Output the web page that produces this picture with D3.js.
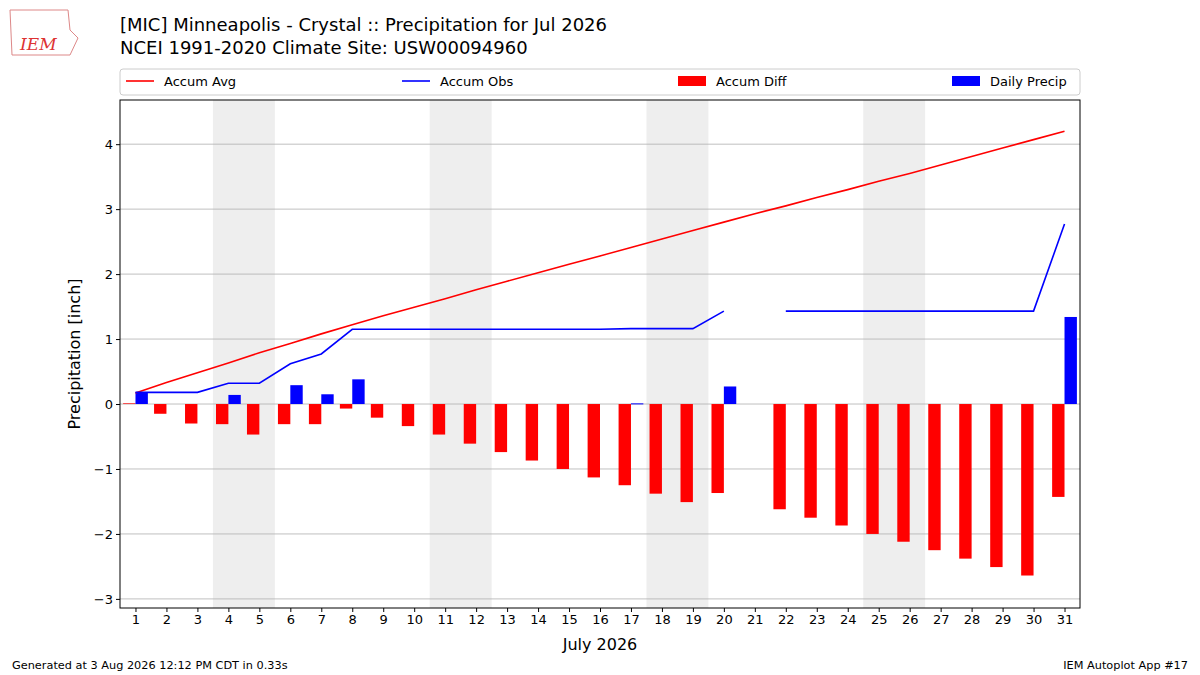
<!DOCTYPE html>
<html><head><meta charset="utf-8">
<script src="https://cdn.jsdelivr.net/npm/d3@7"></script>
<style>body{margin:0;background:#fff;font-family:"DejaVu Sans",sans-serif}</style>
</head><body><div id="chart"></div>
<script>
// Data
const days = d3.range(1, 32);
const accumAvg = [0.17,0.33,0.48,0.63,0.79,0.93,1.08,1.22,1.36,1.49,1.62,1.76,1.89,2.02,2.15,2.28,2.41,2.54,2.67,2.80,2.93,3.05,3.18,3.30,3.43,3.55,3.68,3.81,3.94,4.07,4.20];
const accumObs = [0.18,0.18,0.18,0.32,0.32,0.62,0.77,1.15,1.15,1.15,1.15,1.15,1.15,1.15,1.15,1.15,1.16,1.16,1.16,1.43,null,1.43,1.43,1.43,1.43,1.43,1.43,1.43,1.43,1.43,2.77];
const accumDiff = [0.01,-0.15,-0.30,-0.31,-0.47,-0.31,-0.31,-0.07,-0.21,-0.34,-0.47,-0.61,-0.74,-0.87,-1.00,-1.13,-1.25,-1.38,-1.51,-1.37,null,-1.62,-1.75,-1.87,-2.00,-2.12,-2.25,-2.38,-2.51,-2.64,-1.43];
const dailyPrecip = [0.18,0,0,0.14,0,0.29,0.15,0.38,0,0,0,0,0,0,0,0,0.01,0,0,0.27,null,0,0,0,0,0,0,0,0,0,1.34];
const weekends = [4, 11, 18, 25];
const yTicks = [-3,-2,-1,0,1,2,3,4];

const width = 1200, height = 675;
const margin = {top: 100, bottom: 67, left: 120, right: 120};

let svg = d3.select('#chart').append('svg')
  .attr('width', width).attr('height', height);

let x = d3.scaleLinear().domain([0.5, 31.5]).range([margin.left, width - margin.right]);
let y = d3.scaleLinear().domain([-3.14, 4.68]).range([height - margin.bottom, margin.top]);

// weekend shading
svg.selectAll('.wk').data(weekends).enter().append('rect')
  .attr('x', d => x(d - 0.5)).attr('width', d => x(d + 1.5) - x(d - 0.5))
  .attr('y', margin.top).attr('height', y.range()[0] - margin.top)
  .attr('fill', '#eeeeee');

// grid
svg.selectAll('.grid').data(yTicks).enter().append('line')
  .attr('x1', margin.left).attr('x2', width - margin.right)
  .attr('y1', d => y(d)).attr('y2', d => y(d))
  .attr('stroke', '#b0b0b0').attr('stroke-width', 0.8);

// diff bars (left of tick)
svg.selectAll('.diff').data(days.filter((d, i) => accumDiff[i] !== null)).enter().append('rect')
  .attr('x', d => x(d - 0.4)).attr('width', x(0.4) - x(0))
  .attr('y', d => y(Math.max(0, accumDiff[d - 1])))
  .attr('height', d => Math.abs(y(accumDiff[d - 1]) - y(0)))
  .attr('fill', 'red');

// daily precip bars (right of tick)
svg.selectAll('.daily').data(days.filter((d, i) => dailyPrecip[i])).enter().append('rect')
  .attr('x', d => x(d)).attr('width', x(0.4) - x(0))
  .attr('y', d => y(dailyPrecip[d - 1]))
  .attr('height', d => Math.max(1, y(0) - y(dailyPrecip[d - 1])))
  .attr('fill', 'blue');

let line = vals => d3.line().defined(d => vals[d - 1] !== null)
  .x(d => x(d)).y(d => y(vals[d - 1]));
svg.append('path').datum(days).attr('d', line(accumAvg))
  .attr('fill', 'none').attr('stroke', 'red').attr('stroke-width', 1.6);
svg.append('path').datum(days).attr('d', line(accumObs))
  .attr('fill', 'none').attr('stroke', 'blue').attr('stroke-width', 1.6);

// frame
svg.append('rect').attr('x', margin.left).attr('y', margin.top)
  .attr('width', width - margin.left - margin.right).attr('height', y.range()[0] - margin.top)
  .attr('fill', 'none').attr('stroke', 'black');

// axes
let xAxis = svg.append('g').attr('transform', `translate(0,${height - margin.bottom})`)
  .call(d3.axisBottom(x).tickValues(days).tickSize(4).tickSizeOuter(0));
let yAxis = svg.append('g').attr('transform', `translate(${margin.left},0)`)
  .call(d3.axisLeft(y).tickValues(yTicks).tickSize(4).tickSizeOuter(0)
    .tickFormat(d => d < 0 ? '\u2212' + Math.abs(d) : d));
[xAxis, yAxis].forEach(a => {
  a.select('.domain').remove();
  a.selectAll('text').attr('font-size', 13).attr('font-family', 'DejaVu Sans');
});

svg.append('text').attr('x', x(16)).attr('y', 650).attr('text-anchor', 'middle')
  .attr('font-size', 16).text('July 2026');
svg.append('text').attr('transform', `translate(80,${y(0.77)}) rotate(-90)`)
  .attr('text-anchor', 'middle').attr('font-size', 16).text('Precipitation [inch]');

// titles
svg.append('text').attr('x', 120).attr('y', 31).attr('font-size', 18)
  .text('[MIC] Minneapolis - Crystal :: Precipitation for Jul 2026');
svg.append('text').attr('x', 120).attr('y', 54).attr('font-size', 18)
  .text('NCEI 1991-2020 Climate Site: USW00094960');

// logo
svg.append('text').attr('x', 20).attr('y', 50).attr('font-size', 17)
  .attr('font-style', 'italic').attr('font-family', 'DejaVu Serif').attr('fill', '#d33').text('IEM');
svg.append('path').attr('d', 'M10,10 L68,10 L70,30 L78,38 L70,55 L12,55 Z')
  .attr('fill', 'none').attr('stroke', '#d88').attr('stroke-width', 1);

// legend
let lg = svg.append('g');
lg.append('rect').attr('x', 120).attr('y', 69).attr('width', 960).attr('height', 26)
  .attr('fill', 'white').attr('stroke', '#ccc').attr('rx', 3);
const legendItems = [
  {label: 'Accum Avg', color: 'red', type: 'line', x: 126},
  {label: 'Accum Obs', color: 'blue', type: 'line', x: 402},
  {label: 'Accum Diff', color: 'red', type: 'rect', x: 678},
  {label: 'Daily Precip', color: 'blue', type: 'rect', x: 952}
];
legendItems.forEach(it => {
  if (it.type === 'line') {
    lg.append('line').attr('x1', it.x).attr('x2', it.x + 28).attr('y1', 81).attr('y2', 81)
      .attr('stroke', it.color).attr('stroke-width', 1.6);
  } else {
    lg.append('rect').attr('x', it.x).attr('y', 76).attr('width', 28).attr('height', 10).attr('fill', it.color);
  }
  lg.append('text').attr('x', it.x + 38).attr('y', 86).attr('font-size', 13).text(it.label);
});

svg.append('text').attr('x', 12).attr('y', 669).attr('font-size', 11.3)
  .text('Generated at 3 Aug 2026 12:12 PM CDT in 0.33s');
svg.append('text').attr('x', 1188).attr('y', 669).attr('font-size', 11.3).attr('text-anchor', 'end')
  .text('IEM Autoplot App #17');
</script></body></html>
